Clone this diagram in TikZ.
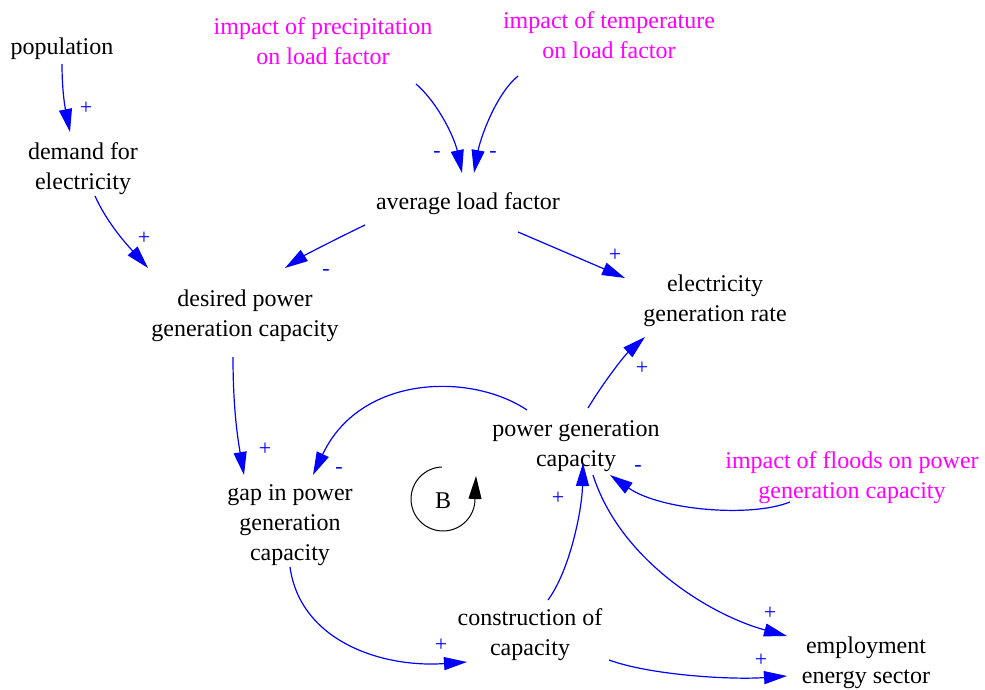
\documentclass[tikz,border=0pt]{standalone}
\usepackage{fontspec}
\setmainfont{Liberation Serif}
\usetikzlibrary{arrows.meta,calc}
\definecolor{linkblue}{RGB}{0,0,255}
\definecolor{extmag}{RGB}{255,0,255}
\begin{document}
\begin{tikzpicture}[x=1pt,y=-1pt,
  every node/.style={font=\fontsize{24}{30}\selectfont, align=center, inner sep=1pt},
  var/.style={text=black},
  ext/.style={text=extmag},
  link/.style={draw=linkblue, line width=1.2pt, -{Triangle[length=23pt,width=13pt]}},
  sgn/.style={text=linkblue, font=\fontsize{22}{22}\selectfont, inner sep=0pt}]
\useasboundingbox (0,0) rectangle (985,690);
% variables
\node[var] (pop) at (62,49) {population};
\node[var] (dem) at (83,169) {demand for\\electricity};
\node[ext] (prec) at (323,41) {impact of precipitation\\on load factor};
\node[ext] (temp) at (609,35) {impact of temperature\\on load factor};
\node[var] (avg) at (468,204) {average load factor};
\node[var] (des) at (245,316) {desired power\\generation capacity};
\node[var] (egr) at (715,301) {electricity\\generation rate};
\node[var] (pgc) at (576,446) {power generation\\capacity};
\node[var] (gap) at (290,525) {gap in power\\generation\\capacity};
\node[ext] (fld) at (852,478) {impact of floods on power\\generation capacity};
\node[var] (con) at (530,635) {construction of\\capacity};
\node[var] (emp) at (866,663) {employment\\energy sector};
\node (B) at (443,501) {B};
% loop marker
\draw[line width=1pt, -{Triangle[length=23pt,width=13pt]}]
  ($(B)+(-1.1,-34)$) arc[start angle=-92, end angle=-360, radius=32] -- ++(1,-23);
% links
\draw[link] ($(pop)+(0,15)$) .. controls +(0,31) and +(-4,-20) .. ($(dem)+(-13,-37)$);
\draw[link] ($(dem)+(12,27)$) .. controls +(13,29) and +(-18,-20) .. ($(des)+(-97,-48)$);
\draw[link] ($(prec)+(93,43)$) .. controls +(24,21) and +(-7,-33) .. ($(avg)+(-6,-31)$);
\draw[link] ($(temp)+(-91,41)$) .. controls +(-23,19) and +(6,-33) .. ($(avg)+(6,-31)$);
\draw[link] ($(avg)+(-103,21)$) .. controls +(-25,12) and +(20,-13) .. ($(des)+(40,-48)$);
\draw[link] ($(avg)+(50,28)$) .. controls +(42,18) and +(-30,-13) .. ($(egr)+(-90,-23)$);
\draw[link] ($(des)+(-12,41)$) .. controls +(0,53) and +(-6,-35) .. ($(gap)+(-46,-50)$);
\draw[link] ($(pgc)+(12,-38)$) .. controls +(17,-28) and +(-20,18) .. ($(egr)+(-70,36)$);
\draw[link] ($(pgc)+(-49,-36)$) .. controls +(-57,-38) and +(47,-100) .. ($(gap)+(23,-50)$);
\draw[link] ($(fld)+(-62,24)$) .. controls +(-40,16) and +(50,35) .. ($(pgc)+(34,29)$);
\draw[link] ($(gap)+(0,42)$) .. controls +(10,73) and +(-87,6) .. ($(con)+(-63,27)$);
\draw[link] ($(con)+(18,-35)$) .. controls +(22,-30) and +(-1,47) .. ($(pgc)+(7,17)$);
\draw[link] ($(pgc)+(17,29)$) .. controls +(27,85) and +(-77,-21) .. ($(emp)+(-79,-27)$);
\draw[link] ($(con)+(79,25)$) .. controls +(41,15) and +(-57,4) .. ($(emp)+(-79,13)$);
% polarity signs
\node[sgn] (s1) at (86,108) {+};
\node[sgn] (s2) at (144,238) {+};
\node[sgn] (s3) at (437,154) {-};
\node[sgn] (s4) at (493,154) {-};
\node[sgn] (s5) at (326,272) {-};
\node[sgn] (s6) at (615,255) {+};
\node[sgn] (s7) at (265,449) {+};
\node[sgn] (s8) at (642,368) {+};
\node[sgn] (s9) at (339,470) {-};
\node[sgn] (s10) at (638,468) {-};
\node[sgn] (s11) at (441,645) {+};
\node[sgn] (s12) at (558,498) {+};
\node[sgn] (s13) at (770,613) {+};
\node[sgn] (s14) at (761,660) {+};
\end{tikzpicture}
\end{document}
